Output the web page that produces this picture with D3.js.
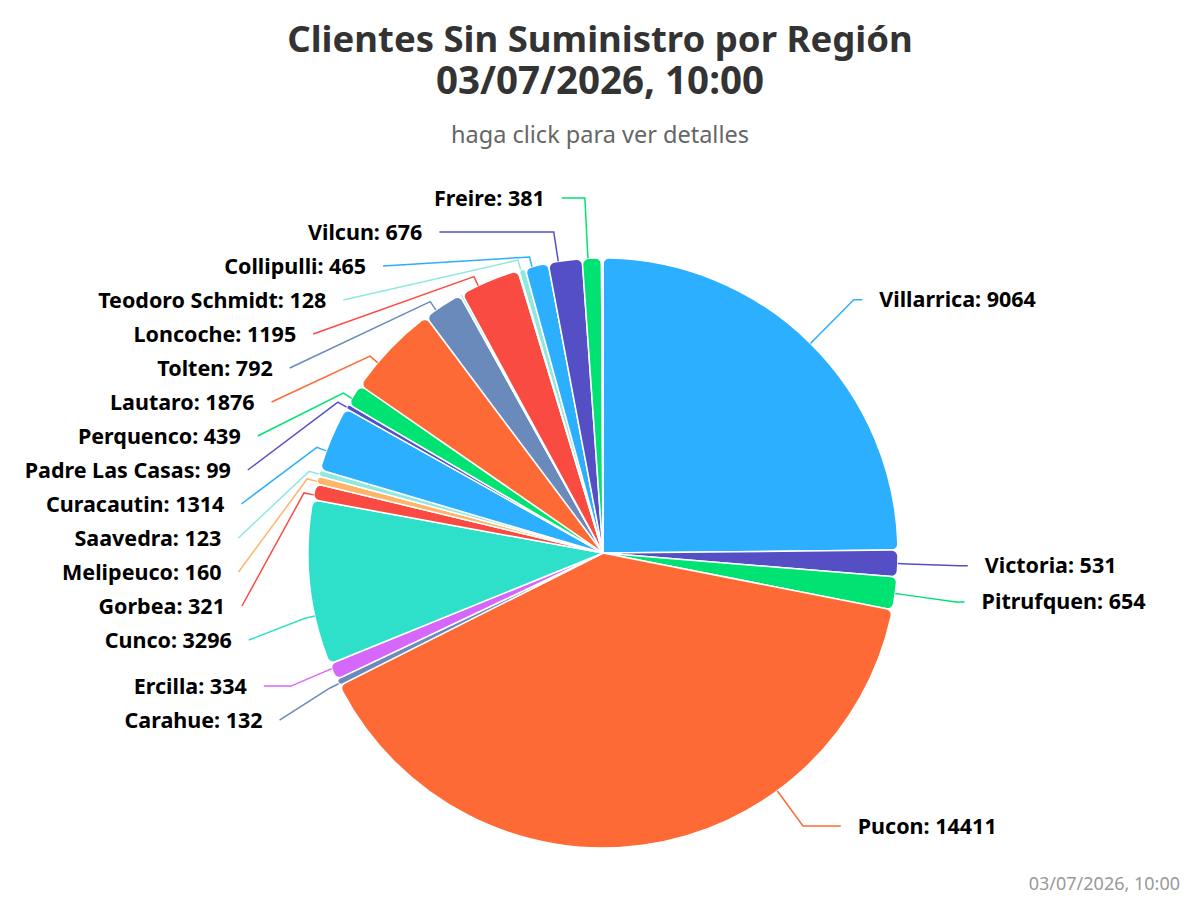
<!DOCTYPE html>
<html>
<head>
<meta charset="utf-8">
<script src="https://cdn.jsdelivr.net/npm/d3@7"></script>
<style>
  body { margin: 0; background: #fff; }
  svg { display: block; }
  text { font-family: "Noto Sans", "DejaVu Sans", sans-serif; }
</style>
</head>
<body>
<svg id="chart" width="1200" height="900"></svg>
<script>
// data (empty names = slices too thin to get a label)
var names = ["Villarrica", "Victoria", "Pitrufquen", "Pucon", "Carahue", "Ercilla", "Cunco",
  "Gorbea", "Melipeuco", "Saavedra", "Curacautin", "Padre Las Casas", "Perquenco", "Lautaro",
  "Tolten", "", "", "Loncoche", "", "Teodoro Schmidt", "Collipulli", "Vilcun", "Freire", ""]
var values = [9064, 531, 654, 14411, 132, 334, 3296,
  321, 160, 123, 1314, 99, 439, 1876,
  792, 8, 40, 1195, 20, 128, 465, 676, 381, 30]
var palette = ["#2caffe", "#544fc5", "#00e272", "#fe6a35", "#6b8abc",
  "#d568fb", "#2ee0ca", "#fa4b42", "#feb56a", "#91e8e1"]
var titleLines = ["Clientes Sin Suministro por Región", "03/07/2026, 10:00"]
var subtitle = "haga click para ver detalles"
var credits = "03/07/2026, 10:00"

var width = 1200, height = 900
var cx = 603, cy = 553, r = 295
var labelR = 356.5         // radius used for the natural label height
var labelPad = 25.5        // text sits this far outside that circle
var slot = 34, plotTop = 181, plotBottom = 843

var data = names.map(function(n, i) {
  return {name: n, value: values[i], color: palette[i % palette.length]}
})

var svg = d3.select("#chart")

var title = svg.append("text")
  .attr("text-anchor", "middle")
  .style("font-weight", "bold").style("fill", "#333333")
title.append("tspan")
  .attr("x", width / 2).attr("y", 52)
  .style("font-size", "36.5px")
  .text(titleLines[0])
title.append("tspan")
  .attr("x", width / 2).attr("y", 94)
  .style("font-size", "38.5px")
  .text(titleLines[1])

svg.append("text")
  .attr("x", width / 2).attr("y", 143)
  .attr("text-anchor", "middle")
  .style("font-size", "23.5px").style("fill", "#666666")
  .text(subtitle)
svg.append("text")
  .attr("x", 1180).attr("y", 890)
  .attr("text-anchor", "end")
  .style("font-size", "18px").style("fill", "#999999")
  .text(credits)

var pie = d3.pie()
  .sort(null)
  .value(function(d) { return d.value })
  .startAngle(0).endAngle(2 * Math.PI)

var arcs = pie(data)

var arc = d3.arc()
  .innerRadius(0)
  .outerRadius(r)
  .cornerRadius(6)

var g = svg.append("g").attr("transform", "translate(" + cx + "," + cy + ")")

g.selectAll("path")
  .data(arcs)
  .enter()
  .append("path")
    .attr("d", arc)
    .attr("fill", function(d) { return d.data.color })
    .attr("stroke", "#ffffff")
    .attr("stroke-width", 1.5)
    .attr("stroke-linejoin", "round")

function pt(a, rad) {
  return {x: cx + Math.sin(a) * rad, y: cy - Math.cos(a) * rad}
}

// labels, split by side
var labels = arcs.filter(function(d) { return d.data.name !== "" }).map(function(d) {
  var mid = (d.startAngle + d.endAngle) / 2
  return {
    arc: d,
    mid: mid,
    right: mid < Math.PI,
    target: cy - labelR * Math.cos(mid)
  }
})

// push overlapping labels apart, clusters centred on their mean target
function distribute(items) {
  items.sort(function(a, b) { return a.target - b.target })
  var lo = plotTop + slot / 2, hi = plotBottom - slot / 2
  var clusters = items.map(function(d) { return {items: [d]} })
  var merged = true
  while (merged) {
    merged = false
    clusters.forEach(function(c) {
      var n = c.items.length
      var mean = d3.mean(c.items, function(d) { return d.target })
      c.top = Math.max(lo, Math.min(hi - (n - 1) * slot, mean - (n - 1) * slot / 2))
    })
    for (var i = 1; i < clusters.length; i++) {
      var a = clusters[i - 1], b = clusters[i]
      if (a.top + a.items.length * slot > b.top + 0.01) {
        a.items = a.items.concat(b.items)
        clusters.splice(i, 1)
        merged = true
        break
      }
    }
  }
  clusters.forEach(function(c) {
    c.items.forEach(function(d, k) { d.y = c.top + k * slot })
  })
}

distribute(labels.filter(function(d) { return d.right }))
distribute(labels.filter(function(d) { return !d.right }))

labels.forEach(function(d) {
  var dy = d.y - cy
  var dx = Math.sqrt(Math.max(0, labelR * labelR - dy * dy)) + labelPad
  var sgn = d.right ? 1 : -1
  d.textX = cx + sgn * dx
  d.startX = d.textX - sgn * 17

  // angle where the connector meets the slice
  var c = Math.max(-1, Math.min(1, (cy - d.y) / labelR))
  var a0 = Math.acos(c)
  var a = d.right ? a0 : 2 * Math.PI - a0
  var w = d.arc.endAngle - d.arc.startAngle
  a = Math.max(d.arc.startAngle + 0.3 * w, Math.min(d.arc.endAngle - 0.3 * w, a))

  var breakAt = pt(a, r + 10), touch = pt(a, r)
  var pts = [[d.startX, d.y]]
  if (Math.abs(Math.cos(a)) > 1e-6) {
    var t = (cy - d.y) / Math.cos(a)
    var crookX = cx + t * Math.sin(a)
    var ok = d.right ? (crookX <= d.startX && crookX >= breakAt.x)
                     : (crookX >= d.startX && crookX <= breakAt.x)
    if (t > 0 && ok) pts.push([crookX, d.y])
  }
  pts.push([breakAt.x, breakAt.y], [touch.x, touch.y])
  d.points = pts
})

svg.append("g")
  .selectAll("path")
  .data(labels)
  .enter()
  .append("path")
    .attr("d", function(d) { return d3.line()(d.points) })
    .attr("fill", "none")
    .attr("stroke", function(d) { return d.arc.data.color })
    .attr("stroke-width", 1.5)

svg.append("g")
  .selectAll("text")
  .data(labels)
  .enter()
  .append("text")
    .attr("x", function(d) { return d.textX })
    .attr("y", function(d) { return d.y })
    .attr("dy", "0.35em")
    .attr("text-anchor", function(d) { return d.right ? "start" : "end" })
    .style("font-size", "21.5px")
    .style("font-weight", "bold")
    .style("fill", "#000000")
    .text(function(d) { return d.arc.data.name + ": " + d.arc.data.value })
</script>
</body>
</html>
